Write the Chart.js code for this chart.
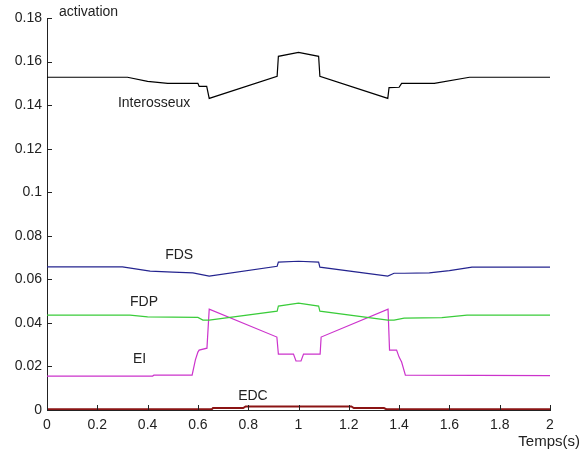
<!DOCTYPE html>
<html>
<head>
<meta charset="utf-8">
<script src="https://cdn.jsdelivr.net/npm/chart.js@4/dist/chart.umd.min.js"></script>
<style>
  body { margin: 0; background: #fff; }
</style>
</head>
<body>
<canvas id="myChart" width="582" height="452"></canvas>
<script>
// values (time in s, activation)
const interoX = [0, 0.32, 0.40, 0.48, 0.60, 0.605, 0.635, 0.645, 0.915, 0.92, 1.0, 1.08, 1.085, 1.355, 1.36, 1.40, 1.41, 1.54, 1.68, 2];
const interoY = [0.1528, 0.1528, 0.1509, 0.1500, 0.1500, 0.1486, 0.1486, 0.1431, 0.1532, 0.1624, 0.1642, 0.1624, 0.1532, 0.1431, 0.1480, 0.1482, 0.1500, 0.1500, 0.1528, 0.1528];

const fdsX = [0, 0.30, 0.41, 0.50, 0.58, 0.645, 0.915, 0.92, 1.0, 1.08, 1.085, 1.355, 1.38, 1.42, 1.52, 1.60, 1.69, 2];
const fdsY = [0.0657, 0.0657, 0.0638, 0.0633, 0.0630, 0.0615, 0.0660, 0.0679, 0.0683, 0.0679, 0.0656, 0.0615, 0.0628, 0.0628, 0.0630, 0.0640, 0.0656, 0.0656];

const fdpX = [0, 0.33, 0.40, 0.60, 0.62, 0.645, 0.915, 0.92, 1.0, 1.08, 1.085, 1.355, 1.38, 1.42, 1.57, 1.67, 2];
const fdpY = [0.0436, 0.0436, 0.0428, 0.0425, 0.0413, 0.0413, 0.0454, 0.0477, 0.0491, 0.0477, 0.0454, 0.0413, 0.0413, 0.0422, 0.0424, 0.0436, 0.0436];

const eiX = [0, 0.42, 0.425, 0.577, 0.59, 0.60, 0.605, 0.636, 0.645, 0.914, 0.92, 0.98, 0.99, 1.01, 1.02, 1.086, 1.09, 1.356, 1.362, 1.39, 1.40, 1.41, 1.425, 2];
const eiY = [0.0156, 0.0156, 0.0160, 0.0160, 0.0230, 0.0266, 0.0275, 0.0284, 0.0463, 0.0335, 0.0257, 0.0257, 0.0225, 0.0225, 0.0257, 0.0257, 0.0335, 0.0463, 0.0275, 0.0275, 0.0243, 0.0220, 0.0160, 0.0158];

const edcX = [0, 0.655, 0.66, 0.78, 0.79, 1.21, 1.22, 1.34, 1.35, 2];
const edcY = [0.0003, 0.0003, 0.0009, 0.0009, 0.0016, 0.0016, 0.0009, 0.0009, 0.0003, 0.0003];

const xTickLabels = ['0', '0.2', '0.4', '0.6', '0.8', '1', '1.2', '1.4', '1.6', '1.8', '2'];
const yTickLabels = ['0', '0.02', '0.04', '0.06', '0.08', '0.1', '0.12', '0.14', '0.16', '0.18'];

// curve names, placed in data units
const curveLabels = [
  { text: 'Interosseux', x: 0.282, y: 0.1408 },
  { text: 'FDS', x: 0.47, y: 0.0711 },
  { text: 'FDP', x: 0.33, y: 0.0495 },
  { text: 'EI', x: 0.342, y: 0.0234 },
  { text: 'EDC', x: 0.76, y: 0.0064 }
];

const pts = (xs, ys) => xs.map((x, i) => ({ x: x, y: ys[i] }));
const FAMILY = '"Liberation Sans", Arial, sans-serif';

const line = (label, xs, ys, color, width) => ({
  label: label,
  data: pts(xs, ys),
  borderColor: color,
  borderWidth: width,
  pointRadius: 0,
  tension: 0,
  fill: false
});

// inward ticks + text labels
const decorations = {
  id: 'decorations',
  afterDraw(chart) {
    const ctx = chart.ctx;
    const xs = chart.scales.x, ys = chart.scales.y;
    const a = chart.chartArea;
    ctx.save();
    ctx.strokeStyle = '#222';
    ctx.lineWidth = 1;
    ctx.beginPath();
    xs.ticks.forEach(t => {
      const px = Math.round(xs.getPixelForValue(t.value)) + 0.5;
      ctx.moveTo(px, a.bottom);
      ctx.lineTo(px, a.bottom - 5);
    });
    ys.ticks.forEach(t => {
      const py = Math.round(ys.getPixelForValue(t.value)) + 0.5;
      ctx.moveTo(a.left, py);
      ctx.lineTo(a.left + 5, py);
    });
    ctx.stroke();

    ctx.fillStyle = '#222';
    ctx.font = '14px ' + FAMILY;
    ctx.textBaseline = 'middle';
    ctx.textAlign = 'left';
    curveLabels.forEach(l => {
      ctx.fillText(l.text, xs.getPixelForValue(l.x), ys.getPixelForValue(l.y));
    });
    ctx.fillText('activation', a.left + 12, a.top - 6);
    ctx.font = '15px ' + FAMILY;
    ctx.textAlign = 'right';
    ctx.fillText('Temps(s)', 580, 442);
    ctx.restore();
  }
};

new Chart(document.getElementById('myChart'), {
  type: 'line',
  data: {
    datasets: [
      line('Interosseux', interoX, interoY, '#000000', 1.2),
      line('FDS', fdsX, fdsY, '#24248f', 1.2),
      line('FDP', fdpX, fdpY, '#3acc3a', 1.2),
      line('EI', eiX, eiY, '#cc33cc', 1.2),
      line('EDC', edcX, edcY, '#8b1414', 2)
    ]
  },
  options: {
    responsive: false,
    animation: false,
    layout: { padding: { top: 18, right: 32, left: 0, bottom: 0 } },
    plugins: { legend: { display: false }, tooltip: { enabled: false } },
    scales: {
      x: {
        type: 'linear',
        min: 0,
        max: 2,
        afterFit(s) { s.height = 42; },
        ticks: {
          stepSize: 0.2,
          color: '#222',
          font: { family: FAMILY, size: 14 },
          padding: 7,
          maxRotation: 0,
          callback: (v, i) => xTickLabels[i]
        },
        grid: { display: false, drawTicks: false },
        border: { display: true, color: '#222', width: 1 }
      },
      y: {
        min: 0,
        max: 0.18,
        afterFit(s) { s.width = 47; },
        ticks: {
          stepSize: 0.02,
          color: '#222',
          font: { family: FAMILY, size: 14 },
          padding: 5,
          callback: (v, i) => yTickLabels[i]
        },
        grid: { display: false, drawTicks: false },
        border: { display: true, color: '#222', width: 1 }
      }
    }
  },
  plugins: [decorations]
});
</script>
</body>
</html>
